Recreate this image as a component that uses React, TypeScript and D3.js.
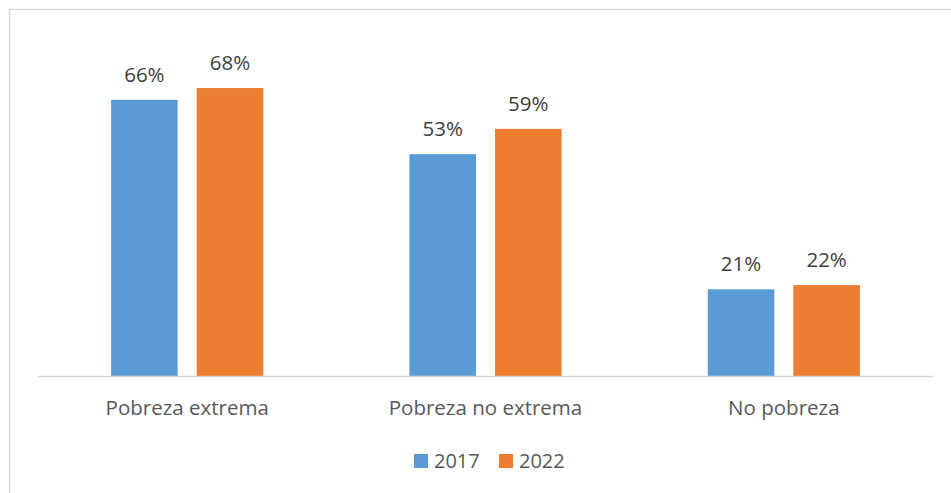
import React from "react";
import * as d3 from "d3";

const categories = ["Pobreza extrema", "Pobreza no extrema", "No pobreza"];
const seriesNames = ["2017", "2022"];
const values2017 = [0.656, 0.527, 0.206];
const values2022 = [0.684, 0.587, 0.216];
const colors = ["#5B9BD5", "#ED7D31"];

const W = 951;
const H = 493;
const FONT = "'Open Sans', 'Noto Sans', sans-serif";

export default function App() {
  const x0 = d3.scaleBand<string>().domain(categories).range([38, 933]).padding(0);
  const x1 = d3
    .scaleBand<string>()
    .domain(seriesNames)
    .range([0, x0.bandwidth()])
    .paddingInner(0.222)
    .paddingOuter(0.854);
  const y = d3.scaleLinear().domain([0, 0.8]).range([376, 39.2]);
  const fmt = d3.format(".0%");
  const data = [values2017, values2022];

  return (
    <svg
      width={W}
      height={H}
      style={{ position: "absolute", left: 0, top: 0, background: "#fff" }}
    >
      <rect x={0} y={0} width={W} height={H} fill="#fff" />
      <rect
        x={9.5}
        y={9.5}
        width={W + 20}
        height={H + 20}
        fill="none"
        stroke="#D9D9D9"
        strokeWidth={1.5}
      />
      {categories.map((c, ci) => (
        <g key={c} transform={`translate(${x0(c)},0)`}>
          {seriesNames.map((s, si) => {
            const v = data[si][ci];
            const bx = x1(s)!;
            const by = y(v);
            return (
              <g key={s}>
                <rect
                  x={bx}
                  y={by}
                  width={x1.bandwidth()}
                  height={y(0) - by}
                  fill={colors[si]}
                />
                <text
                  x={bx + x1.bandwidth() / 2}
                  y={by - 18}
                  textAnchor="middle"
                  fontFamily={FONT}
                  fontSize={20.5}
                  fill="#404040"
                >
                  {fmt(v)}
                </text>
              </g>
            );
          })}
          <text
            x={x0.bandwidth() / 2}
            y={415}
            textAnchor="middle"
            fontFamily={FONT}
            fontSize={20.5}
            fill="#595959"
          >
            {c}
          </text>
        </g>
      ))}
      <line x1={38} x2={933} y1={376.5} y2={376.5} stroke="#D9D9D9" strokeWidth={1.5} />
      {seriesNames.map((s, si) => {
        const lx = 414 + si * 85;
        return (
          <g key={s}>
            <rect x={lx} y={454} width={14} height={14} fill={colors[si]} />
            <text x={lx + 20} y={468} fontFamily={FONT} fontSize={20} fill="#595959">
              {s}
            </text>
          </g>
        );
      })}
    </svg>
  );
}
